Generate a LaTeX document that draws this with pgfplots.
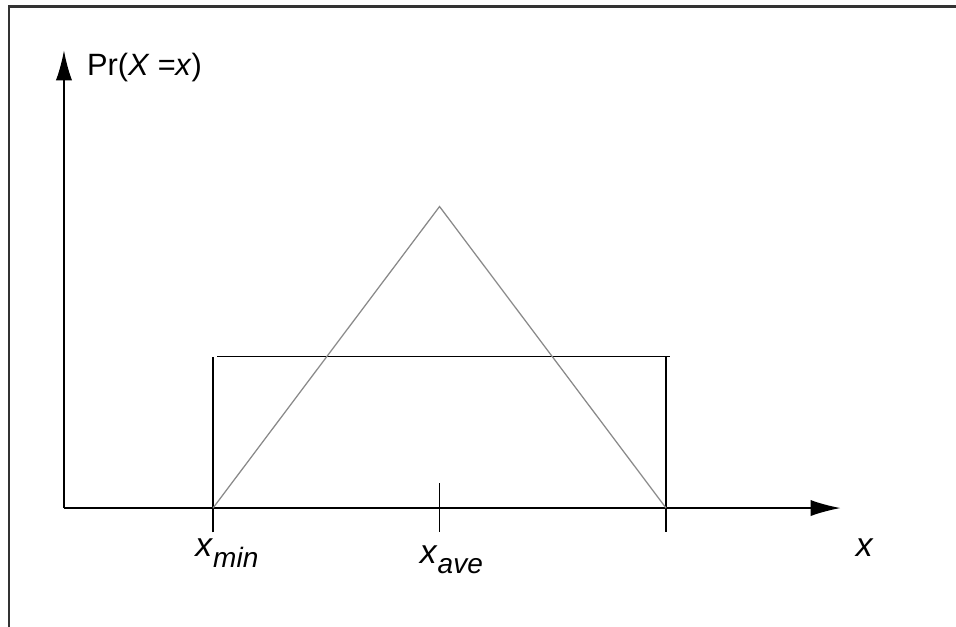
\documentclass[border=0pt]{standalone}
\usepackage{fontspec}
\setmainfont{Liberation Sans}
\usepackage{pgfplots}
\pgfplotsset{compat=1.18}
\usetikzlibrary{arrows.meta}

\definecolor{framegray}{HTML}{333333}
\definecolor{tri}{HTML}{8A8A8A}

\begin{document}
\begin{tikzpicture}
\begin{axis}[
    scale only axis,
    width=12cm, height=7.87cm,
    axis line style={draw=none},
    ticks=none,
    xmin=0.0596, xmax=4.280,
    ymin=-0.785, ymax=3.353,
]
% outer frame (only left and top visible)
\addplot[framegray, line width=0.75pt] coordinates {(0.0996,-0.785) (0.0996,3.310) (4.280,3.310)};
% axes with arrows
\addplot[black, line width=0.5pt, -{Latex[length=10.7pt,width=5.8pt]}] coordinates {(0.342,0) (3.770,0)};
\addplot[black, line width=0.5pt, -{Latex[length=10.7pt,width=5.8pt]}] coordinates {(0.342,0) (0.342,3.02)};
% uniform distribution (rectangle)
\addplot[black, line width=0.5pt] coordinates {(1,-0.16) (1,1.0)};
\addplot[black, line width=0.5pt] coordinates {(1.018,1.0) (3.018,1.0)};
\addplot[black, line width=0.5pt] coordinates {(3,1.0) (3,-0.16)};
% tick at x_ave
\addplot[black, line width=0.5pt] coordinates {(2,0.165) (2,-0.16)};
% triangular distribution
\addplot[tri, line width=0.45pt] coordinates {(1,0) (2,1.99) (3,0)};
% labels
\node[anchor=base west, inner sep=0pt, font=\fontsize{11}{13}\selectfont] at (axis cs:0.442,2.858) {Pr(\textit{X =x})};
\node[anchor=base west, inner sep=0pt, font=\fontsize{12}{14}\selectfont] at (axis cs:3.836,-0.323) {\textit{x}};
\node[anchor=base west, inner sep=0pt, font=\fontsize{12}{14}\selectfont] at (axis cs:0.92,-0.323) {\textit{x}\raisebox{-0.32em}{\fontsize{10}{12}\selectfont\textit{min}}};
\node[anchor=base west, inner sep=0pt, font=\fontsize{12}{14}\selectfont] at (axis cs:1.911,-0.363) {\textit{x}\raisebox{-0.32em}{\fontsize{10}{12}\selectfont\textit{ave}}};
\end{axis}
\end{tikzpicture}
\end{document}
